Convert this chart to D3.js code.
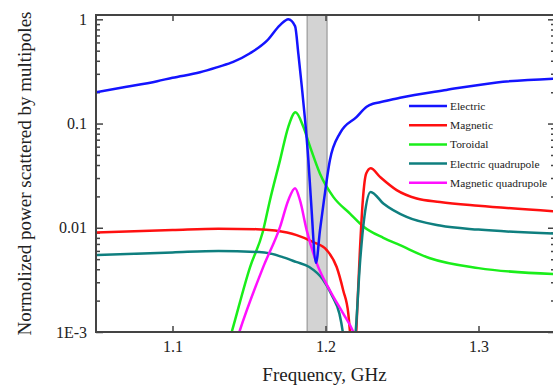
<!DOCTYPE html>
<html>
<head>
<meta charset="utf-8">
<script src="https://cdn.jsdelivr.net/npm/d3@7"></script>
<style>
html,body{margin:0;padding:0;background:#fff;}
svg{display:block;}
</style>
</head>
<body>
<svg id="chart" width="553" height="387"></svg>
<script>
// ---------- DATA ----------
const seriesNames = ["Electric", "Magnetic", "Toroidal", "Electric quadrupole", "Magnetic quadrupole"];
const seriesColors = ["#1414ff", "#ff1010", "#1aee1a", "#0f7f7f", "#ff10ff"];

const electricF = [1.05, 1.07, 1.09, 1.10, 1.118, 1.13, 1.1397, 1.1507, 1.1616, 1.1703, 1.1757, 1.1801, 1.1823, 1.1845, 1.1866, 1.1888, 1.1905, 1.1938, 1.1964, 1.199, 1.2029, 1.2095, 1.2204, 1.2269, 1.231, 1.2356, 1.2487, 1.279, 1.312, 1.35];
const electricV = [0.20, 0.225, 0.255, 0.275, 0.31, 0.35, 0.39, 0.472, 0.62, 0.88, 1.0, 0.86, 0.46, 0.227, 0.11, 0.0446, 0.0184, 0.0046, 0.0095, 0.0184, 0.0446, 0.081, 0.116, 0.145, 0.155, 0.16, 0.177, 0.21, 0.248, 0.27];

const magneticF = [1.05, 1.10, 1.13, 1.155, 1.167, 1.1811, 1.192, 1.2008, 1.2073, 1.2116, 1.2149, 1.216, 1.2175, 1.2192, 1.2201, 1.2225, 1.2244, 1.2266, 1.2295, 1.2356, 1.2465, 1.2596, 1.2748, 1.30, 1.35];
const magneticV = [0.0090, 0.0095, 0.0098, 0.0097, 0.0094, 0.0085, 0.0073, 0.0061, 0.0042, 0.0025, 0.0015, 0.001, 0.0005, 0.0005, 0.001, 0.0061, 0.0184, 0.0331, 0.0372, 0.0308, 0.023, 0.0191, 0.0177, 0.0163, 0.0144];

const toroidalF = [1.134, 1.1387, 1.1507, 1.159, 1.1637, 1.1703, 1.1757, 1.1804, 1.1855, 1.1899, 1.1964, 1.2051, 1.216, 1.2247, 1.2378, 1.2487, 1.2683, 1.30, 1.35];
const toroidalV = [0.00058, 0.001, 0.0042, 0.0091, 0.0184, 0.0446, 0.093, 0.128, 0.093, 0.06, 0.033, 0.0198, 0.0137, 0.0103, 0.008, 0.0068, 0.0051, 0.0041, 0.0036];

const eQuadF = [1.05, 1.10, 1.13, 1.16, 1.1725, 1.1807, 1.1894, 1.1982, 1.2047, 1.2091, 1.2113, 1.213, 1.218, 1.2197, 1.2225, 1.2255, 1.2295, 1.2378, 1.253, 1.2748, 1.30, 1.35];
const eQuadV = [0.00546, 0.0058, 0.006, 0.0058, 0.0052, 0.0047, 0.0042, 0.0032, 0.00217, 0.0015, 0.001, 0.0006, 0.0006, 0.001, 0.0045, 0.013, 0.0221, 0.0171, 0.0127, 0.0105, 0.0096, 0.0088];

const mQuadF = [1.139, 1.1437, 1.1594, 1.1703, 1.1757, 1.1801, 1.1833, 1.1877, 1.1942, 1.2029, 1.2116, 1.2182, 1.222];
const mQuadV = [0.0006, 0.001, 0.00424, 0.0102, 0.0184, 0.024, 0.0184, 0.0095, 0.0046, 0.0025, 0.0015, 0.001, 0.0007];

const bandRange = [1.188, 1.201];
const xTicks = [1.1, 1.2, 1.3];
const xTickLabels = ["1.1", "1.2", "1.3"];
const yTicks = [0.001, 0.01, 0.1, 1];
const yTickLabels = ["1E-3", "0.01", "0.1", "1"];
const xTitle = "Frequency, GHz";
const yTitle = "Normolized power scattered by multipoles";

// ---------- LAYOUT ----------
const L = 96, T = 15, R = 555, B = 332;
const svg = d3.select("#chart");
const x = d3.scaleLinear().domain([1.05, 1.35]).range([L, R]);
const y = d3.scaleLog().domain([0.001, 1.1]).range([B, T]);

const serif = "'Liberation Serif','Times New Roman',serif";
const axisColor = "#444";

svg.append("defs").append("clipPath").attr("id", "clip")
  .append("rect").attr("x", L).attr("y", T).attr("width", R - L).attr("height", B - T);

// band
svg.append("rect")
  .attr("x", x(bandRange[0])).attr("y", y(1.1))
  .attr("width", x(bandRange[1]) - x(bandRange[0]))
  .attr("height", y(0.001) - y(1.1))
  .attr("fill", "#d3d3d3").attr("stroke", "#999").attr("stroke-width", 1.2);

// minor ticks values
const minorVals = [];
for (let d = -3; d < 0; d++) for (let m = 2; m <= 9; m++) minorVals.push(m * Math.pow(10, d));

function styleAxis(g) {
  g.select(".domain").remove();
  g.selectAll(".tick line").attr("stroke", axisColor).attr("stroke-width", 1.5);
  g.selectAll(".tick text").attr("fill", "#222").style("font-family", serif).style("font-size", "16px");
}

// left axis major
svg.append("g").attr("transform", `translate(${L},0)`)
  .call(d3.axisLeft(y).tickValues(yTicks).tickSize(-7).tickPadding(9)
    .tickFormat((d, i) => yTickLabels[i]))
  .call(styleAxis);
// left minor
svg.append("g").attr("transform", `translate(${L},0)`)
  .call(d3.axisLeft(y).tickValues(minorVals).tickSize(-4).tickFormat(""))
  .call(styleAxis);
// right axis
svg.append("g").attr("transform", `translate(${R},0)`)
  .call(d3.axisRight(y).tickValues(yTicks).tickSize(-7).tickFormat(""))
  .call(styleAxis);
svg.append("g").attr("transform", `translate(${R},0)`)
  .call(d3.axisRight(y).tickValues(minorVals).tickSize(-4).tickFormat(""))
  .call(styleAxis);
// bottom axis
svg.append("g").attr("transform", `translate(0,${B})`)
  .call(d3.axisBottom(x).tickValues(xTicks).tickSize(-6).tickPadding(9)
    .tickFormat((d, i) => xTickLabels[i]))
  .call(styleAxis);
// top axis
svg.append("g").attr("transform", `translate(0,${T})`)
  .call(d3.axisTop(x).tickValues(xTicks).tickSize(-6).tickFormat(""))
  .call(styleAxis);

// curves
const line = d3.line()
  .x(d => x(d[0])).y(d => y(d[1]))
  .curve(d3.curveMonotoneX);

const seriesData = [
  d3.zip(electricF, electricV),
  d3.zip(magneticF, magneticV),
  d3.zip(toroidalF, toroidalV),
  d3.zip(eQuadF, eQuadV),
  d3.zip(mQuadF, mQuadV)
];
const drawOrder = [2, 1, 3, 4, 0];
const curves = svg.append("g").attr("clip-path", "url(#clip)");
drawOrder.forEach(i => {
  curves.append("path").datum(seriesData[i])
    .attr("d", line)
    .attr("fill", "none")
    .attr("stroke", seriesColors[i])
    .attr("stroke-width", 2.5)
    .attr("stroke-linejoin", "round");
});

// frame
svg.append("path")
  .attr("d", `M${L},${T}H${R}V${B}H${L}Z`)
  .attr("fill", "none").attr("stroke", axisColor).attr("stroke-width", 2);

// legend
const leg = svg.append("g");
seriesNames.forEach((n, i) => {
  const yy = 106 + i * 19.2;
  leg.append("line").attr("x1", 409).attr("x2", 447).attr("y1", yy).attr("y2", yy)
    .attr("stroke", seriesColors[i]).attr("stroke-width", 2.5);
  leg.append("text").attr("x", 450).attr("y", yy + 4)
    .style("font-family", serif).style("font-size", "11.4px").attr("fill", "#222")
    .text(n);
});

// titles
svg.append("text")
  .attr("x", (L + R) / 2 - 1).attr("y", 381)
  .attr("text-anchor", "middle")
  .style("font-family", serif).style("font-size", "19px").attr("fill", "#222")
  .text(xTitle);
svg.append("text")
  .attr("transform", `translate(31,${(T + B) / 2}) rotate(-90)`)
  .attr("text-anchor", "middle")
  .style("font-family", serif).style("font-size", "19px").attr("fill", "#222")
  .text(yTitle);
</script>
</body>
</html>
